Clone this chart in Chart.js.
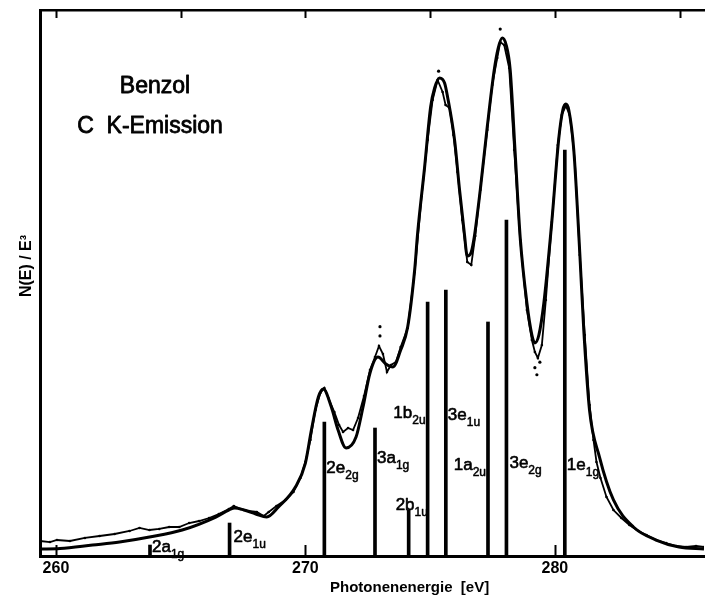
<!DOCTYPE html>
<html>
<head>
<meta charset="utf-8">
<script src="https://cdn.jsdelivr.net/npm/chart.js@4.4.1/dist/chart.umd.min.js"></script>
<style>
  html, body { margin: 0; padding: 0; background: #fff; }
  #wrap { width: 708px; height: 600px; }
</style>
</head>
<body>
<div id="wrap"><canvas id="c" width="708" height="600"></canvas></div>
<script>
// Benzene C K emission: fitted band profile, measured intensity and MO sticks

// Fitted profile (eV, N(E)/E^3 in arbitrary units)
const fitEnergy = [259.36, 260.16, 261.47, 262.55, 263.75, 265.06, 266.41, 266.93, 267.17, 267.53,
  268.01, 268.45, 268.92, 269.60, 270.00, 270.24, 270.52, 270.72, 271.04, 271.31,
  271.63, 272.03, 272.31, 272.59, 272.91, 273.23, 273.51, 273.82, 274.10, 274.38,
  274.50, 274.78, 275.02, 275.18, 275.38, 275.58, 275.70, 275.98, 276.18, 276.37,
  276.49, 276.65, 276.77, 277.01, 277.29, 277.57, 277.73, 277.89, 278.05, 278.21,
  278.41, 278.61, 278.88, 279.08, 279.20, 279.36, 279.56, 279.88, 280.16, 280.32,
  280.44, 280.56, 280.76, 281.00, 281.16, 281.39, 281.79, 282.35, 283.15, 284.06,
  284.98, 285.98];
const fitIntensity = [1.28, 1.37, 2.01, 2.56, 3.48, 4.76, 7.14, 8.42, 8.79, 8.42,
  7.69, 7.14, 8.97, 12.64, 17.03, 23.08, 29.12, 30.59, 27.29, 23.08,
  19.78, 21.79, 27.29, 33.52, 36.45, 35.16, 34.62, 37.73, 41.94, 52.38,
  59.16, 71.25, 82.23, 85.71, 87.55, 86.63, 84.07, 76.19, 67.03, 59.16,
  54.95, 55.68, 58.42, 67.03, 78.57, 89.01, 93.04, 94.87, 93.59, 89.01,
  73.81, 58.42, 46.34, 40.48, 39.01, 40.48, 46.34, 61.30, 76.56, 81.68,
  82.78, 81.68, 74.36, 55.49, 41.39, 26.74, 18.13, 10.26, 5.31, 2.93,
  1.65, 1.28];

// Measured spectrum
const measEnergy = [259.36, 259.76, 260.04, 260.56, 261.16, 261.75, 262.35, 262.95, 263.35, 263.75,
  264.14, 264.54, 264.94, 265.34, 265.74, 266.14, 266.53, 266.93, 267.13, 267.41,
  267.73, 268.05, 268.33, 268.53, 268.84, 269.20, 269.52, 269.80, 270.00, 270.20,
  270.40, 270.60, 270.76, 270.92, 271.16, 271.35, 271.51, 271.71, 271.91, 272.11,
  272.35, 272.59, 272.79, 272.95, 273.11, 273.27, 273.43, 273.63, 273.82, 274.10,
  274.38, 274.66, 274.90, 275.10, 275.30, 275.50, 275.62, 275.78, 275.94, 276.10,
  276.29, 276.49, 276.65, 276.81, 277.01, 277.29, 277.49, 277.69, 277.81, 277.97,
  278.17, 278.37, 278.61, 278.88, 279.08, 279.20, 279.32, 279.48, 279.64, 279.88,
  280.12, 280.28, 280.44, 280.60, 280.80, 281.00, 281.20, 281.39, 281.55, 281.67,
  281.83, 282.07, 282.35, 282.67, 282.99, 283.35, 283.67, 284.06, 284.46, 284.86,
  285.26, 285.66, 285.98];
const measIntensity = [2.75, 2.56, 2.93, 2.75, 3.30, 3.66, 4.03, 4.58, 5.13, 4.76,
  4.95, 5.31, 5.31, 6.04, 6.41, 6.96, 7.69, 8.61, 9.16, 8.61,
  8.24, 8.06, 7.33, 8.06, 9.16, 10.26, 11.72, 14.29, 17.22, 21.25,
  26.74, 29.85, 30.77, 28.94, 26.37, 23.99, 22.71, 23.44, 23.08, 25.27,
  29.30, 34.07, 36.45, 38.46, 37.00, 33.70, 34.98, 35.53, 38.28, 41.76,
  52.01, 65.93, 76.19, 83.52, 87.18, 84.98, 82.60, 82.05, 77.11, 70.33,
  61.54, 53.85, 53.30, 58.61, 67.03, 78.02, 86.26, 91.21, 94.14, 93.59,
  89.38, 74.36, 57.88, 45.05, 39.56, 37.36, 36.26, 38.64, 46.89, 61.17,
  75.27, 80.77, 82.42, 80.77, 72.53, 55.13, 40.48, 27.66, 21.25, 17.22,
  14.29, 10.81, 8.42, 6.96, 5.68, 4.58, 3.85, 2.93, 2.38, 1.83,
  1.65, 1.83, 1.65];

// Isolated readings
const strayEnergy = [272.99, 272.99, 275.34, 277.81, 279.20, 279.40, 279.28];
const strayIntensity = [40.3, 42.0, 88.8, 96.5, 34.5, 35.5, 33.2];

// Calculated orbital energies and intensities
const stickEnergy = [263.77, 266.96, 270.76, 272.79, 274.14, 274.90, 275.63, 277.32, 278.06, 280.40];
const stickIntensity = [2.01, 6.04, 24.54, 23.44, 8.42, 46.52, 48.72, 42.86, 61.54, 74.36];
const stickOrbital = ['2a', '2e', '2e', '3a', '2b', '1b', '3e', '1a', '3e', '1e'];
const stickSymmetry = ['1g', '1u', '2g', '1g', '1u', '2u', '1u', '2u', '2g', '1g'];

// Axis ticks
const bottomTicks = [260, 270, 280];
const topTicks = [260, 265, 270, 275, 280, 285];

const titleLines = ['Benzol', 'C  K-Emission'];
const xTitle = 'Photonenenergie  [eV]';
const yTitle = 'N(E) / E³';

// Label placement for the sticks: horizontal offset (px) from the stick,
// baseline height in intensity units, and which side of the stick the text sits
const stickLabelPlace = [
  { dx: 2, y: 0.73, side: 'right' },
  { dx: 4, y: 2.56, side: 'right' },
  { dx: 2, y: 15.2, side: 'right' },
  { dx: 2, y: 17.0, side: 'right' },
  { dx: -13, y: 8.4, side: 'right' },
  { dx: -1, y: 25.3, side: 'left' },
  { dx: 2, y: 24.9, side: 'right' },
  { dx: -1, y: 15.75, side: 'left' },
  { dx: 3, y: 16.1, side: 'right' },
  { dx: 2, y: 15.75, side: 'right' }
];

const FONT = "'Liberation Sans', Arial, Helvetica, sans-serif";
const X_MIN = 259.36, X_MAX = 285.98;

const pairs = (xs, ys) => xs.map((x, i) => ({ x: x, y: ys[i] }));

// fill text with a thin outline so the lettering reads a little heavier
function heavyText(ctx, text, x, y, weight) {
  ctx.lineWidth = weight;
  ctx.lineJoin = 'round';
  ctx.strokeText(text, x, y);
  ctx.fillText(text, x, y);
}

const annotate = {
  id: 'annotate',
  afterDraw(chart) {
    const ctx = chart.ctx;
    const xs = chart.scales.x;
    const ys = chart.scales.y;
    const area = chart.chartArea;
    ctx.save();
    ctx.strokeStyle = '#000';
    ctx.fillStyle = '#000';

    // inward tick marks on the bottom and top frame lines
    ctx.lineWidth = 2;
    bottomTicks.forEach(v => {
      const px = Math.round(xs.getPixelForValue(v)) + 0.5;
      ctx.beginPath();
      ctx.moveTo(px, area.bottom);
      ctx.lineTo(px, area.bottom - 11);
      ctx.stroke();
    });
    topTicks.forEach(v => {
      const px = Math.round(xs.getPixelForValue(v)) + 0.5;
      ctx.beginPath();
      ctx.moveTo(px, area.top);
      ctx.lineTo(px, area.top + 8);
      ctx.stroke();
    });

    // sample / transition heading
    ctx.textAlign = 'center';
    ctx.textBaseline = 'alphabetic';
    ctx.font = '23px ' + FONT;
    heavyText(ctx, titleLines[0], 155, 93, 0.8);
    heavyText(ctx, titleLines[1], 150, 133, 0.8);

    // axis titles
    ctx.font = 'bold 15px ' + FONT;
    ctx.textAlign = 'left';
    ctx.fillText(xTitle, 330, 592);
    ctx.save();
    ctx.translate(31, 266);
    ctx.rotate(-Math.PI / 2);
    ctx.textAlign = 'center';
    ctx.font = 'bold 16px ' + FONT;
    ctx.fillText(yTitle, 0, 0);
    ctx.restore();

    // orbital labels with subscripted symmetry
    stickEnergy.forEach((e, i) => {
      const place = stickLabelPlace[i];
      const sx = xs.getPixelForValue(e);
      const by = ys.getPixelForValue(place.y);
      ctx.font = '17px ' + FONT;
      const mainW = ctx.measureText(stickOrbital[i]).width;
      ctx.font = '12px ' + FONT;
      const subW = ctx.measureText(stickSymmetry[i]).width;
      const left = place.side === 'left' ? sx + place.dx - mainW - subW - 1 : sx + place.dx;
      ctx.textAlign = 'left';
      ctx.font = '17px ' + FONT;
      heavyText(ctx, stickOrbital[i], left, by, 0.6);
      ctx.font = '12px ' + FONT;
      heavyText(ctx, stickSymmetry[i], left + mainW, by + 6, 0.5);
    });
    ctx.restore();
  }
};

new Chart(document.getElementById('c'), {
  type: 'line',
  data: {
    datasets: [
      {
        type: 'line',
        label: 'fit',
        data: pairs(fitEnergy, fitIntensity),
        borderColor: '#000',
        borderWidth: 3,
        pointRadius: 0,
        cubicInterpolationMode: 'monotone',
        fill: false,
        order: 1
      },
      {
        type: 'line',
        label: 'measured',
        data: pairs(measEnergy, measIntensity),
        borderColor: '#000',
        borderWidth: 1.8,
        pointRadius: 1.3,
        pointBorderWidth: 0,
        pointBackgroundColor: '#000',
        tension: 0,
        fill: false,
        order: 2
      },
      {
        type: 'line',
        label: 'stray',
        data: pairs(strayEnergy, strayIntensity),
        showLine: false,
        pointRadius: 1.6,
        pointBorderWidth: 0,
        pointBackgroundColor: '#000',
        order: 2
      },
      {
        type: 'bar',
        label: 'orbitals',
        data: pairs(stickEnergy, stickIntensity),
        backgroundColor: '#000',
        borderWidth: 0,
        barThickness: 3,
        order: 3
      }
    ]
  },
  options: {
    responsive: false,
    animation: false,
    devicePixelRatio: 1,
    layout: { padding: 0 },
    plugins: { legend: { display: false }, tooltip: { enabled: false } },
    scales: {
      x: {
        type: 'linear',
        position: 'bottom',
        offset: false,
        min: X_MIN,
        max: X_MAX,
        afterBuildTicks: s => { s.ticks = bottomTicks.map(v => ({ value: v })); },
        afterFit: s => { s.height = 44; },
        grid: { display: false, drawTicks: false, offset: false },
        border: { display: true, color: '#000', width: 3 },
        ticks: {
          color: '#000',
          font: { family: FONT, size: 16, weight: 'bold' },
          padding: 3,
          maxRotation: 0,
          autoSkip: false,
          callback: v => String(v)
        }
      },
      xTop: {
        type: 'linear',
        position: 'top',
        offset: false,
        min: X_MIN,
        max: X_MAX,
        afterFit: s => { s.height = 10; },
        grid: { display: false, drawTicks: false, offset: false },
        border: { display: true, color: '#000', width: 2.5 },
        ticks: { display: false }
      },
      y: {
        type: 'linear',
        position: 'left',
        min: 0,
        max: 100,
        afterFit: s => { s.width = 40; },
        grid: { display: false, drawTicks: false },
        border: { display: true, color: '#000', width: 3 },
        ticks: { display: false }
      }
    }
  },
  plugins: [annotate]
});
</script>
</body>
</html>
